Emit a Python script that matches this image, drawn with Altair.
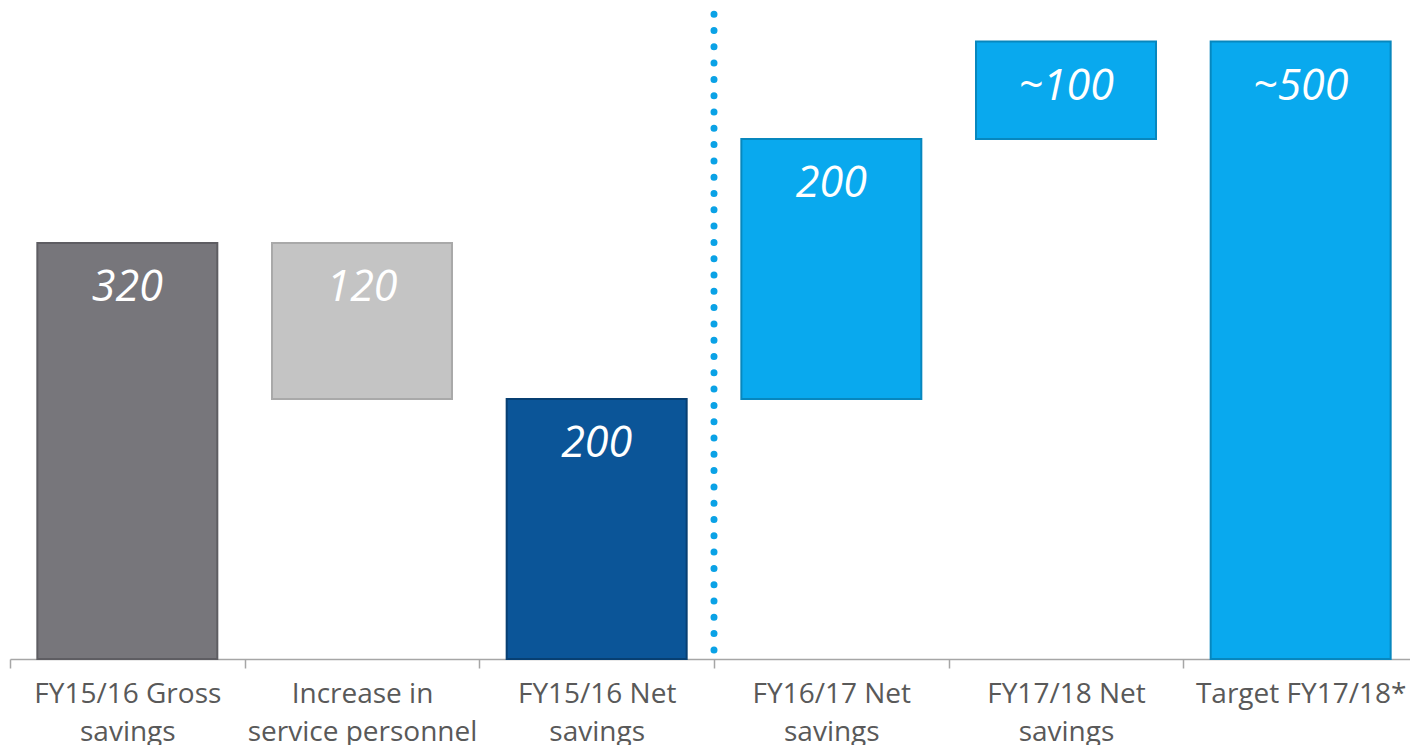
import altair as alt
import pandas as pd

categories = [
    "FY15/16 Gross\nsavings",
    "Increase in\nservice personnel",
    "FY15/16 Net\nsavings",
    "FY16/17 Net\nsavings",
    "FY17/18 Net\nsavings",
    "Target FY17/18*",
]
starts = [0, 200, 0, 200, 400, 0]
ends = [320, 320, 200, 400, 475, 475]
value_labels = ["320", "120", "200", "200", "~100", "~500"]
fills = ["#77767B", "#C4C4C4", "#0B5598", "#09A9EE", "#09A9EE", "#09A9EE"]
strokes = ["#5E5D62", "#A9A9A9", "#073F72", "#0787BE", "#0787BE", "#0787BE"]

df = pd.DataFrame({
    "cat": categories,
    "start": starts,
    "end": ends,
    "label": value_labels,
    "fill": fills,
    "stroke": strokes,
})

divider = pd.DataFrame({"cat": [categories[3]], "y1": [7], "y2": [500]})

x_scale = alt.Scale(paddingInner=0, paddingOuter=0, range=[0, 1408])
x_enc = alt.X(
    "cat:N",
    sort=categories,
    scale=x_scale,
    axis=alt.Axis(
        title=None,
        labelExpr="split(datum.label, '\\n')",
        labelAngle=0,
        labelFont="Open Sans",
        labelFontSize=28,
        labelColor="#595959",
        labelLineHeight=38,
        labelPadding=12,
        labelBaseline="top",
        labelLimit=400,
        domainColor="#A6A6A6",
        domainWidth=1.5,
        tickColor="#A6A6A6",
        tickWidth=1.5,
        tickSize=9,
        tickBand="extent",
        labelOverlap=False,
        labelBound=False,
    ),
)
y_scale = alt.Scale(domain=[0, 507], nice=False)

bars = alt.Chart(df).mark_bar(strokeWidth=2, width=alt.RelativeBandSize(0.767)).encode(
    x=x_enc,
    y=alt.Y("end:Q", scale=y_scale, axis=None),
    y2="start:Q",
    fill=alt.Fill("fill:N", scale=None),
    stroke=alt.Stroke("stroke:N", scale=None),
)

texts = alt.Chart(df).mark_text(
    color="white",
    font="Open Sans",
    fontStyle="italic",
    fontSize=43,
    baseline="middle",
    align="center",
    dy=45,
).encode(
    x=alt.X("cat:N", sort=categories),
    y=alt.Y("end:Q", scale=y_scale),
    text="label:N",
)

rule = alt.Chart(divider).mark_rule(
    color="#0AA2E6",
    strokeWidth=7,
    strokeDash=[0, 16.3],
    strokeCap="round",
).encode(
    x=alt.X("cat:N", sort=categories, bandPosition=0),
    y=alt.Y("y1:Q", scale=y_scale),
    y2="y2:Q",
)

chart = alt.layer(bars, texts, rule).properties(
    width=1400,
    height=659,
    padding={"left": 10, "top": 0, "right": 0, "bottom": 86},
    autosize=alt.AutoSizeParams(type="none"),
).configure_view(stroke=None)

chart.save("out.html", embed_options={"renderer": "svg", "actions": False})
